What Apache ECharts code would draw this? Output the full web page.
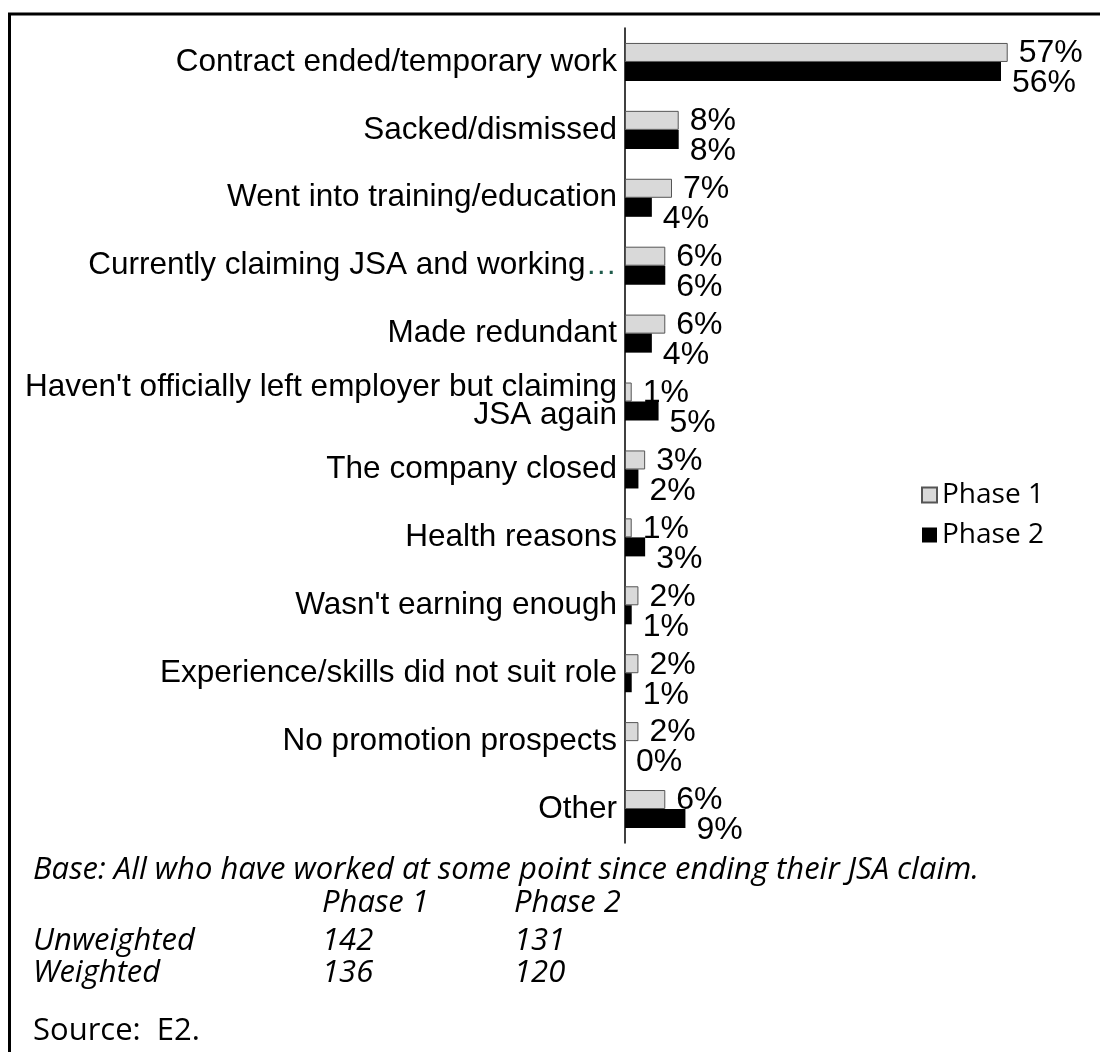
<!DOCTYPE html>
<html>
<head>
<meta charset="utf-8">
<script src="https://cdn.jsdelivr.net/npm/echarts@6/dist/echarts.min.js"></script>
<style>
  html, body { margin: 0; padding: 0; background: #fff; }
  #chart { width: 1100px; height: 1052px; }
</style>
</head>
<body>
<div id="chart"></div>
<script>
const categories = [
  'Contract ended/temporary work',
  'Sacked/dismissed',
  'Went into training/education',
  'Currently claiming JSA and working…',
  'Made redundant',
  "Haven't officially left employer but claiming\nJSA again",
  'The company closed',
  'Health reasons',
  "Wasn't earning enough",
  'Experience/skills did not suit role',
  'No promotion prospects',
  'Other'
]
const phase1 = [57, 8, 7, 6, 6, 1, 3, 1, 2, 2, 2, 6]
const phase2 = [56, 8, 4, 6, 4, 5, 2, 3, 1, 1, 0, 9]

const baseRows = [
  ['', 'Phase 1', 'Phase 2'],
  ['Unweighted', '142', '131'],
  ['Weighted', '136', '120']
]

const labelFont = '"Liberation Sans", Arial, sans-serif'
const noteFont = '"Open Sans", "Noto Sans", sans-serif'

const chart = echarts.init(document.getElementById('chart'))

// the ellipsis after "working" is a dark teal in the original
const catLabel = (value) => {
  if (value.endsWith('…')) {
    return value.slice(0, -1) + '{dots|…}'
  }
  return value
}

const noteTexts = []
noteTexts.push({
  type: 'text',
  left: 33,
  top: 855,
  style: {
    text: 'Base: All who have worked at some point since ending their JSA claim.',
    font: 'italic 31px ' + noteFont,
    fill: '#000'
  }
})
const colX = [33, 322, 514]
const rowY = [888, 926, 958]
baseRows.forEach((row, r) => {
  row.forEach((cell, c) => {
    if (!cell) return
    noteTexts.push({
      type: 'text',
      left: colX[c],
      top: rowY[r],
      style: { text: cell, font: 'italic 31px ' + noteFont, fill: '#000' }
    })
  })
})
noteTexts.push({
  type: 'text',
  left: 33,
  top: 1016,
  style: { text: 'Source:  E2.', font: '31px ' + noteFont, fill: '#000' }
})

const option = {
  animation: false,
  backgroundColor: '#fff',
  grid: {
    left: 625,
    right: 5,
    top: 28,
    bottom: 1052 - 843
  },
  legend: {
    orient: 'vertical',
    left: 916,
    top: 476,
    icon: 'rect',
    itemWidth: 15,
    itemHeight: 15,
    itemGap: 12,
    textStyle: {
      fontFamily: noteFont,
      fontSize: 28,
      color: '#000'
    },
    data: ['Phase 1', 'Phase 2']
  },
  xAxis: {
    type: 'value',
    min: 0,
    max: 70,
    show: false
  },
  yAxis: {
    type: 'category',
    inverse: true,
    data: categories,
    axisLine: { show: true, lineStyle: { color: '#000', width: 1.5 } },
    axisTick: { show: false },
    axisLabel: {
      margin: 8,
      color: '#000',
      fontFamily: labelFont,
      fontSize: 31.5,
      lineHeight: 28,
      align: 'right',
      formatter: catLabel,
      rich: {
        dots: {
          color: '#1f5c4c',
          fontFamily: labelFont,
          fontSize: 31.5
        }
      }
    }
  },
  series: [
    {
      name: 'Phase 1',
      type: 'bar',
      data: phase1,
      barGap: '0%',
      barCategoryGap: '44%',
      itemStyle: {
        color: '#d9d9d9',
        borderColor: '#555',
        borderWidth: 1
      },
      label: {
        show: true,
        position: 'right',
        distance: 11,
        offset: [0, 1],
        formatter: '{c}%',
        color: '#000',
        fontFamily: labelFont,
        fontSize: 32
      }
    },
    {
      name: 'Phase 2',
      type: 'bar',
      data: phase2,
      itemStyle: {
        color: '#000'
      },
      label: {
        show: true,
        position: 'right',
        distance: 11,
        offset: [0, 12],
        formatter: '{c}%',
        color: '#000',
        fontFamily: labelFont,
        fontSize: 32
      }
    }
  ],
  graphic: [
    {
      type: 'rect',
      shape: { x: 9.5, y: 14, width: 1200, height: 1200 },
      style: { fill: 'none', stroke: '#000', lineWidth: 3 },
      silent: true
    },
    ...noteTexts
  ]
}

chart.setOption(option)
</script>
</body>
</html>
